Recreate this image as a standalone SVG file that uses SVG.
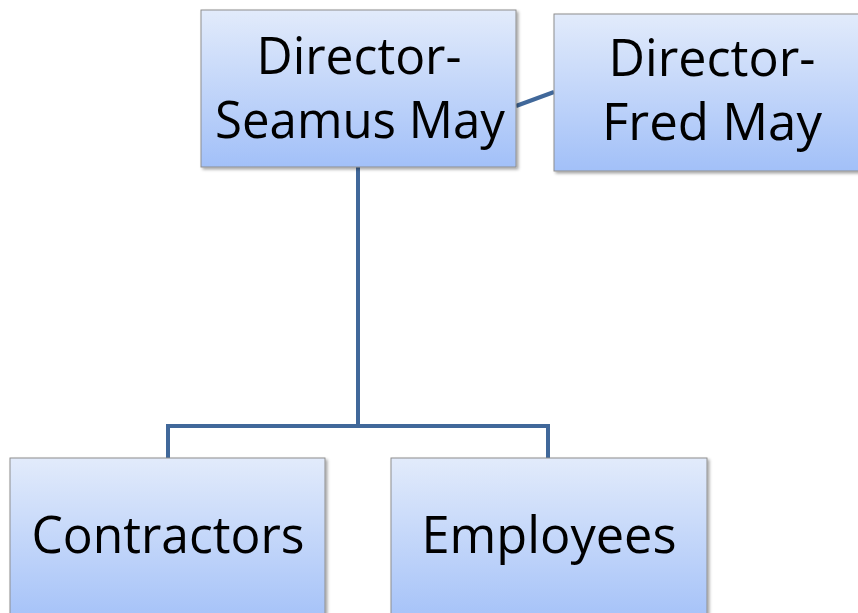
<svg xmlns="http://www.w3.org/2000/svg" width="858" height="613" viewBox="0 0 858 613">
<defs>
<linearGradient id="g" x1="0" y1="0" x2="0" y2="1">
<stop offset="0" stop-color="#E2EBFB"/>
<stop offset="1" stop-color="#A2C0F8"/>
</linearGradient>
<filter id="sh" x="-5%" y="-5%" width="115%" height="115%">
<feDropShadow dx="2" dy="2" stdDeviation="1.5" flood-color="#000" flood-opacity="0.35"/>
</filter>
<style>
.box{fill:url(#g);stroke:#8E8E8E;stroke-width:1;filter:url(#sh)}
.t{font-family:"Open Sans","Liberation Sans",sans-serif;font-size:52px;fill:#000;text-anchor:middle}
.c{fill:none;stroke:#41689A;stroke-width:4}
</style>
</defs>
<rect width="858" height="613" fill="#fff"/>
<g id="connectors">
<polyline class="c" points="358,167 358,426 168,426 168,458"/>
<polyline class="c" points="358,426 548,426 548,458"/>
<line class="c" x1="516" y1="106" x2="554" y2="92"/>
</g>
<g id="seamus">
<rect class="box" x="201" y="10" width="315" height="157"/>
<text class="t" x="359" y="74" textLength="205" lengthAdjust="spacingAndGlyphs">Director-</text>
<text class="t" x="360" y="138" textLength="290" lengthAdjust="spacingAndGlyphs">Seamus May</text>
</g>
<g id="fred">
<rect class="box" x="554" y="14" width="316" height="157"/>
<text class="t" x="712" y="76" textLength="207" lengthAdjust="spacingAndGlyphs">Director-</text>
<text class="t" x="712" y="140" textLength="220" lengthAdjust="spacingAndGlyphs">Fred May</text>
</g>
<g id="contractors">
<rect class="box" x="10" y="458" width="315" height="170"/>
<text class="t" x="168" y="553" textLength="273" lengthAdjust="spacingAndGlyphs">Contractors</text>
</g>
<g id="employees">
<rect class="box" x="391" y="458" width="316" height="170"/>
<text class="t" x="549" y="553" textLength="255" lengthAdjust="spacingAndGlyphs">Employees</text>
</g>
</svg>
